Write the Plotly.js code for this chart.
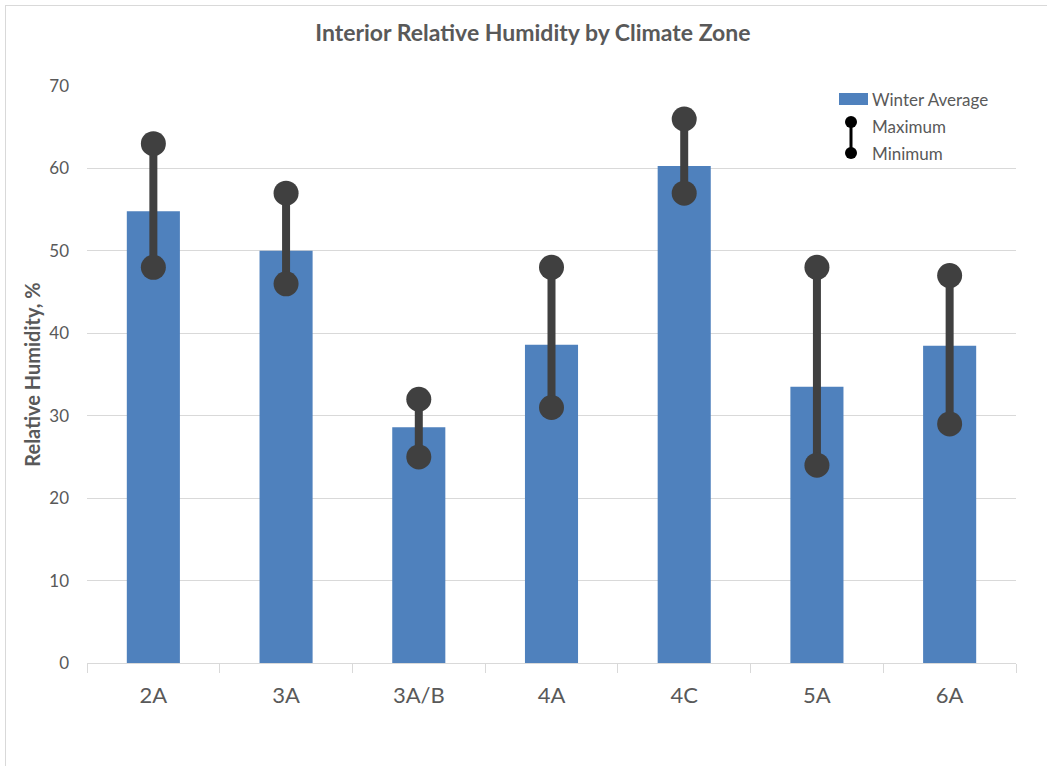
<!DOCTYPE html>
<html><head><meta charset="utf-8">
<script src="https://cdn.plot.ly/plotly-3.0.1.min.js"></script>
<style>html,body{margin:0;padding:0;background:#fff}#chart{width:1047px;height:766px}
#frame{position:absolute;left:5px;top:5px;width:1050px;height:770px;border:1px solid #d9d9d9;pointer-events:none}</style>
</head><body><div id="chart"></div><div id="frame"></div>
<script>
const categories = ["2A","3A","3A/B","4A","4C","5A","6A"];
const winterAverage = [54.8, 50.0, 28.6, 38.6, 60.3, 33.5, 38.5];
const maximum = [63, 57, 32, 48, 66, 48, 47];
const minimum = [48, 46, 25, 31, 57, 24, 29];

const FONT = "Lato, 'Open Sans', sans-serif";
const GREY = "#404040";
const TXT = "#595959";

const traces = [{
  type: "bar", x: categories, y: winterAverage, name: "Winter Average",
  marker: {color: "#4f81bd"}, width: 0.4, hoverinfo: "x+y"
}];
const rx = [], ry = [];
categories.forEach((c, i) => { rx.push(c, c, null); ry.push(minimum[i], maximum[i], null); });
traces.push({
  type: "scatter", mode: "lines+markers", x: rx, y: ry, name: "Range",
  line: {color: GREY, width: 8}, marker: {color: GREY, size: 25}, showlegend: false
});

const plotW = 1047 - 87 - 31, plotH = 766 - 86 - 103;
function px(xp){ return (xp - 87) / plotW; }
function py(yp){ return (663 - yp) / plotH; }

const layout = {
  width: 1047, height: 766,
  margin: {l: 87, r: 31, t: 86, b: 103},
  paper_bgcolor: "#fff", plot_bgcolor: "#fff",
  font: {family: FONT, color: TXT},
  showlegend: false,
  title: {text: "<b>Interior Relative Humidity by Climate Zone</b>", x: 0.509, xanchor: "center", y: 0.957, yanchor: "middle",
    font: {size: 23, color: TXT, family: FONT}},
  xaxis: {type: "category", tickson: "boundaries", ticks: "outside", ticklen: 9, tickcolor: "#d9d9d9",
    showline: true, linecolor: "#d9d9d9", linewidth: 1, showgrid: false, ticklabelstandoff: 13,
    tickfont: {size: 22, color: TXT}, fixedrange: true},
  yaxis: {range: [0, 70], dtick: 10, showgrid: true, gridcolor: "#d9d9d9", zeroline: false,
    tickfont: {size: 17, color: TXT}, ticks: "", ticklabelstandoff: 17,
    title: {text: "<b>Relative Humidity, %</b>", font: {size: 20, color: TXT}, standoff: 3}},
  shapes: [
    {type: "rect", xref: "paper", yref: "paper", x0: px(839), x1: px(868), y0: py(105), y1: py(93), fillcolor: "#4f81bd", line: {width: 0}},
    {type: "line", xref: "paper", yref: "paper", x0: px(851), x1: px(851), y0: py(122), y1: py(153), line: {color: "#000", width: 3}},
    {type: "circle", xref: "paper", yref: "paper", x0: px(845), x1: px(857), y0: py(128), y1: py(116), fillcolor: "#000", line: {width: 0}},
    {type: "circle", xref: "paper", yref: "paper", x0: px(845), x1: px(857), y0: py(159), y1: py(147), fillcolor: "#000", line: {width: 0}}
  ],
  annotations: ["Winter Average", "Maximum", "Minimum"].map((t, i) => ({
    xref: "paper", yref: "paper", x: px(870), y: py([99, 127, 153][i]), text: t, showarrow: false,
    xanchor: "left", yanchor: "middle", font: {size: 17, color: TXT}
  }))
};

Plotly.newPlot("chart", traces, layout, {displayModeBar: false, staticPlot: true});
</script></body></html>
